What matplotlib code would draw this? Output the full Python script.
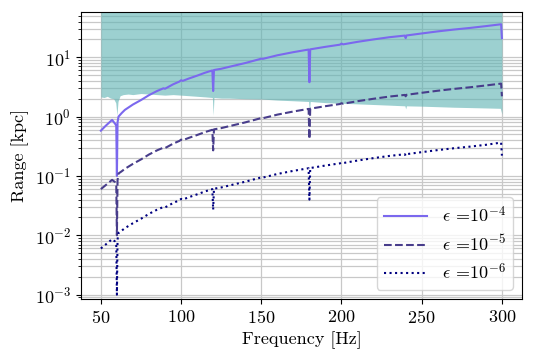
import matplotlib
matplotlib.use("Agg")
import matplotlib.pyplot as plt
import numpy as np

plt.rcParams['font.family'] = ['cmr10', 'DejaVu Serif']
plt.rcParams['mathtext.fontset'] = 'cm'
plt.rcParams['axes.formatter.use_mathtext'] = True
plt.rcParams['axes.unicode_minus'] = False

# frequency samples for the range curves
freq = [50, 53, 57, 59, 59.6, 60, 60.4, 61, 63, 65, 70, 75, 80, 85, 89, 90, 91, 95, 99, 100,
        101, 105, 110, 115, 119.5, 120, 120.5, 125, 130, 140, 149, 150, 151, 160, 170, 179.5,
        180, 180.5, 190, 199, 200, 201, 210, 220, 230, 239.5, 240, 240.5, 250, 260, 270, 280,
        290, 299.5, 300]

range_e4 = [0.58, 0.70, 0.88, 0.75, 0.70, 0.10, 0.80, 1.00, 1.15, 1.30, 1.60, 1.90, 2.30, 2.70,
            3.00, 2.95, 3.05, 3.50, 3.90, 4.10, 4.00, 4.40, 4.90, 5.50, 6.00, 2.70, 6.10, 6.40,
            6.90, 8.00, 9.30, 9.50, 9.40, 10.8, 12.2, 13.5, 3.80, 13.6, 15.0, 16.3, 17.0, 16.5,
            18.2, 20.0, 21.8, 23.2, 21.0, 23.3, 25.2, 27.3, 29.3, 31.2, 33.5, 36.0, 21.0]

range_e5 = [0.060, 0.070, 0.086, 0.078, 0.072, 0.010, 0.085, 0.110, 0.120, 0.132, 0.160, 0.190,
            0.230, 0.270, 0.300, 0.296, 0.305, 0.350, 0.390, 0.410, 0.400, 0.440, 0.490, 0.550,
            0.600, 0.270, 0.610, 0.640, 0.690, 0.800, 0.930, 0.950, 0.940, 1.08, 1.22, 1.35,
            0.42, 1.36, 1.50, 1.63, 1.68, 1.65, 1.82, 2.00, 2.18, 2.32, 2.20, 2.33, 2.52, 2.73,
            2.93, 3.12, 3.35, 3.60, 2.20]

range_e6 = [0.0060, 0.0070, 0.0086, 0.0078, 0.0072, 0.0010, 0.0085, 0.0110, 0.0120, 0.0132,
            0.0160, 0.0190, 0.0230, 0.0270, 0.0300, 0.0296, 0.0305, 0.0350, 0.0390, 0.0410,
            0.0400, 0.0440, 0.0490, 0.0550, 0.0600, 0.0270, 0.0610, 0.0640, 0.0690, 0.0800,
            0.0930, 0.0950, 0.0940, 0.108, 0.122, 0.135, 0.040, 0.136, 0.150, 0.163, 0.168,
            0.165, 0.182, 0.200, 0.218, 0.232, 0.220, 0.233, 0.252, 0.273, 0.293, 0.312, 0.335,
            0.365, 0.220]

# noisy band (lower edge of the shaded region)
band_freq = [50, 52, 54, 56, 58, 59.3, 60, 60.7, 62, 64, 67, 70, 75, 80, 85, 90, 95, 100, 105,
             110, 115, 119.5, 120, 120.5, 125, 130, 140, 150, 160, 170, 179.5, 180, 180.5, 190,
             200, 210, 220, 230, 239.5, 240, 240.5, 250, 260, 270, 280, 290, 299, 300]
band_low = [2.15, 2.1, 2.2, 2.05, 2.0, 1.7, 1.05, 1.8, 2.25, 2.35, 2.4, 2.35, 2.45, 2.4, 2.35,
            2.3, 2.35, 2.3, 2.25, 2.2, 2.15, 2.1, 1.05, 2.1, 2.05, 2.05, 2.0, 1.98, 1.9, 1.85,
            1.8, 1.2, 1.8, 1.72, 1.68, 1.64, 1.6, 1.56, 1.52, 1.35, 1.52, 1.5, 1.47, 1.44, 1.42,
            1.4, 1.38, 1.1]
band_high = 1e3

fig = plt.figure(figsize=(5.46, 3.52), dpi=100)
ax = fig.add_axes([0.148, 0.151, 0.808, 0.815])

ax.fill_between(band_freq, band_low, band_high, color='#5fb3b3', alpha=0.62, linewidth=0,
                zorder=2)
ax.plot(freq, range_e4, color='mediumslateblue', lw=1.5, ls='-', label=r'$\epsilon$ =$10^{-4}$',
        zorder=3)
ax.plot(freq, range_e5, color='darkslateblue', lw=1.5, ls='--', label=r'$\epsilon$ =$10^{-5}$',
        zorder=3)
ax.plot(freq, range_e6, color='navy', lw=1.5, ls=':', label=r'$\epsilon$ =$10^{-6}$', zorder=3)

ax.set_yscale('log')
ax.set_xlim(37.5, 312.5)
ax.set_ylim(8.5e-4, 58)
ax.set_xticks([50, 100, 150, 200, 250, 300])
ax.grid(True, which='major', color='#c8c8c8', lw=0.9)
ax.grid(True, which='minor', axis='y', color='#c8c8c8', lw=0.9)
ax.tick_params(axis='both', labelsize=13)
ax.set_xlabel('Frequency [Hz]', fontsize=13)
ax.set_ylabel('Range [kpc]', fontsize=13)
ax.legend(loc='lower right', fontsize=13, handlelength=2.4, labelspacing=0.45)

fig.savefig('out.png', dpi=100)
